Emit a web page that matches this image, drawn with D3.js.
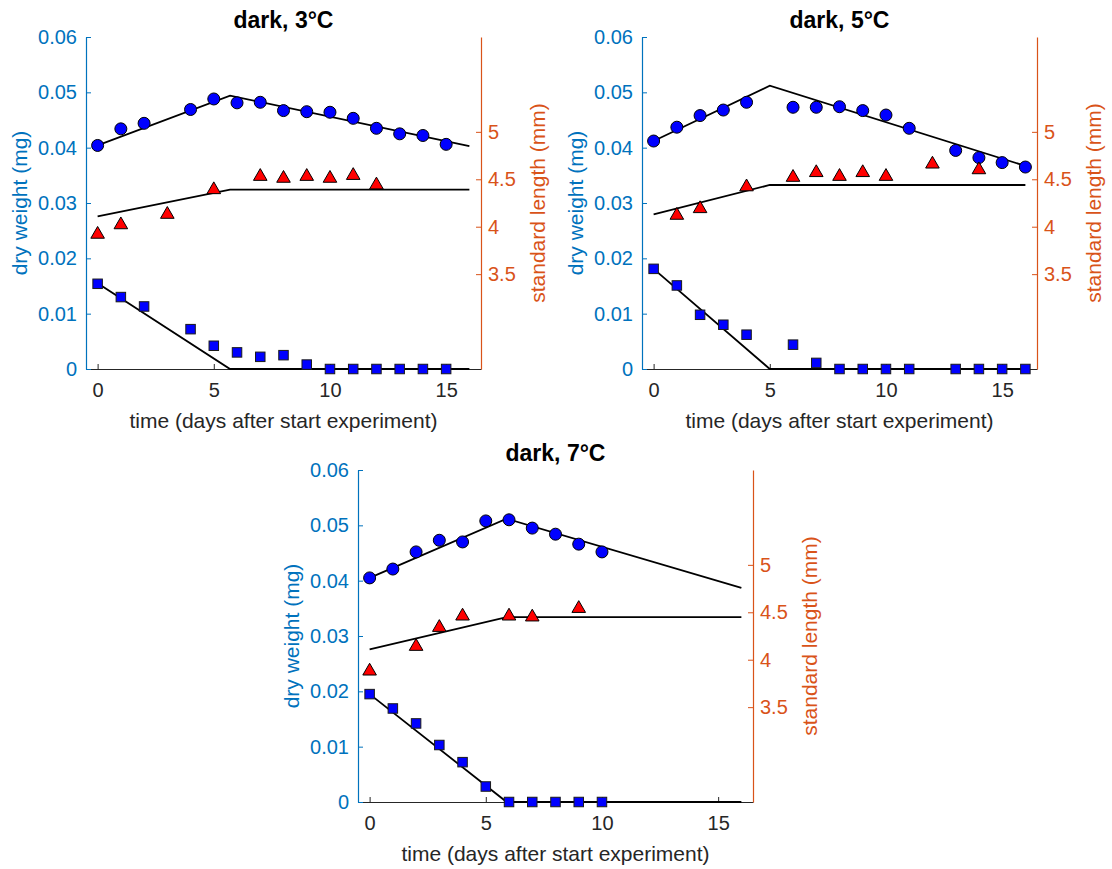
<!DOCTYPE html>
<html lang="en">
<head>
    <meta charset="utf-8">
    <title>dark incubation</title>
    <script type="text/javascript" src="https://cdnjs.cloudflare.com/ajax/libs/d3/7.8.5/d3.min.js"></script>
    <style>
      body { margin: 0; background: #fff; }
      text { font-family: "Liberation Sans", Arial, Helvetica, sans-serif; }
    </style>
</head>
<body>
    <script type="text/javascript">
    // tick values and titles
    var titles = ["dark, 3°C", "dark, 5°C", "dark, 7°C"];
    var xTicks = [0, 5, 10, 15];
    var weightTicks = [0, 0.01, 0.02, 0.03, 0.04, 0.05, 0.06];
    var lengthTicks = [3.5, 4, 4.5, 5];

    // 3°C data
    var wDays3 = [0, 1, 2, 4, 5, 6, 7, 8, 9, 10, 11, 12, 13, 14, 15];
    var weight3 = [0.0404, 0.0434, 0.0444, 0.0469, 0.0488, 0.0481, 0.0482, 0.0467, 0.0465, 0.0464, 0.0453, 0.0435, 0.0425, 0.0422, 0.0406];
    var yolk3 = [0.0154, 0.0130, 0.0113, 0.0072, 0.0042, 0.0030, 0.0022, 0.0025, 0.0008, 0, 0, 0, 0, 0, 0];
    var lDays3 = [0, 1, 3, 5, 7, 8, 9, 10, 11, 12];
    var length3 = [3.92, 4.02, 4.13, 4.39, 4.53, 4.51, 4.53, 4.51, 4.54, 4.44];
    var fitDays3 = [0, 5.7, 16];
    var fitWeight3 = [0.0404, 0.0494, 0.0403];
    var fitYolk3 = [0.0155, 0, 0];
    var fitLength3 = [4.11, 4.39, 4.39];

    // 5°C data
    var wDays5 = [0, 1, 2, 3, 4, 6, 7, 8, 9, 10, 11, 13, 14, 15, 16];
    var weight5 = [0.0412, 0.0437, 0.0458, 0.0468, 0.0482, 0.0473, 0.0473, 0.0474, 0.0467, 0.0459, 0.0435, 0.0395, 0.0382, 0.0373, 0.0365];
    var yolk5 = [0.0181, 0.0151, 0.0098, 0.0080, 0.0062, 0.0044, 0.0011, 0, 0, 0, 0, 0, 0, 0, 0];
    var lDays5 = [1, 2, 4, 6, 7, 8, 9, 10, 12, 14];
    var length5 = [4.12, 4.19, 4.42, 4.52, 4.57, 4.53, 4.57, 4.53, 4.66, 4.60];
    var fitDays5 = [0, 5, 16];
    var fitWeight5 = [0.0412, 0.0512, 0.0367];
    var fitYolk5 = [0.0181, 0, 0];
    var fitLength5 = [4.13, 4.44, 4.44];

    // 7°C data
    var wDays7 = [0, 1, 2, 3, 4, 5, 6, 7, 8, 9, 10];
    var weight7 = [0.0405, 0.0421, 0.0452, 0.0473, 0.0470, 0.0508, 0.0510, 0.0495, 0.0484, 0.0466, 0.0452];
    var yolk7 = [0.0195, 0.0169, 0.0142, 0.0103, 0.0072, 0.0028, 0, 0, 0, 0, 0];
    var lDays7 = [0, 2, 3, 4, 6, 7, 9];
    var length7 = [3.88, 4.14, 4.34, 4.46, 4.46, 4.45, 4.54];
    var fitDays7 = [0, 5.9, 16];
    var fitWeight7 = [0.0405, 0.0512, 0.0387];
    var fitYolk7 = [0.0195, 0, 0];
    var fitLength7 = [4.11, 4.45, 4.45];

    var blue = "#0072BD", orange = "#D95319", dark = "#262626";
    var width = 395, height = 332;

    var panels = [
      {title: titles[0], left: 86, top: 37, wDays: wDays3, weight: weight3, yolk: yolk3, lDays: lDays3, len: length3,
       fitDays: fitDays3, fitWeight: fitWeight3, fitYolk: fitYolk3, fitLength: fitLength3},
      {title: titles[1], left: 642, top: 37, wDays: wDays5, weight: weight5, yolk: yolk5, lDays: lDays5, len: length5,
       fitDays: fitDays5, fitWeight: fitWeight5, fitYolk: fitYolk5, fitLength: fitLength5},
      {title: titles[2], left: 358, top: 470, wDays: wDays7, weight: weight7, yolk: yolk7, lDays: lDays7, len: length7,
       fitDays: fitDays7, fitWeight: fitWeight7, fitYolk: fitYolk7, fitLength: fitLength7}
    ];

    var svg = d3.select("body").append("svg")
        .attr("width", 1112)
        .attr("height", 869);

    panels.forEach(function(p) {
      var x = d3.scaleLinear().domain([-0.5, 16.5]).range([0, width]);
      var yW = d3.scaleLinear().domain([0, 0.06]).range([height, 0]);
      var yL = d3.scaleLinear().domain([2.5, 6]).range([height, 0]);

      var g = svg.append("g")
          .attr("transform", "translate(" + p.left + "," + p.top + ")");

      // x axis
      var xa = g.append("g")
          .attr("transform", "translate(0," + height + ")")
          .call(d3.axisBottom(x).tickValues(xTicks).tickFormat(d3.format("d"))
            .tickSizeInner(-5).tickSizeOuter(0).tickPadding(14));
      xa.select(".domain").attr("stroke", dark).attr("stroke-width", 1);
      xa.selectAll(".tick line").attr("stroke", dark);
      xa.selectAll("text").attr("fill", dark).style("font-size", "20px").attr("font-family", null);

      // left axis (dry weight)
      var la = g.append("g")
          .call(d3.axisLeft(yW).tickValues(weightTicks).tickFormat(function(d) { return d === 0 ? "0" : d3.format(".2f")(d); })
            .tickSizeInner(-5).tickSizeOuter(0).tickPadding(9));
      la.select(".domain").attr("stroke", blue).attr("stroke-width", 1.2);
      la.selectAll(".tick line").attr("stroke", blue);
      la.selectAll("text").attr("fill", blue).style("font-size", "20px").attr("font-family", null);

      // right axis (standard length)
      var ra = g.append("g")
          .attr("transform", "translate(" + width + ",0)")
          .call(d3.axisRight(yL).tickValues(lengthTicks).tickFormat(d3.format("~g"))
            .tickSizeInner(-5).tickSizeOuter(0).tickPadding(7));
      ra.select(".domain").attr("stroke", orange).attr("stroke-width", 1.2);
      ra.selectAll(".tick line").attr("stroke", orange);
      ra.selectAll("text").attr("fill", orange).style("font-size", "20px").attr("font-family", null);

      // labels
      g.append("text")
          .attr("transform", "translate(-66," + height / 2 + ") rotate(-90)")
          .attr("text-anchor", "middle").attr("dy", "0.35em")
          .attr("fill", blue).style("font-size", "21px")
          .text("dry weight (mg)");
      g.append("text")
          .attr("transform", "translate(" + (width + 57) + "," + height / 2 + ") rotate(-90)")
          .attr("text-anchor", "middle").attr("dy", "0.35em")
          .attr("fill", orange).style("font-size", "21px")
          .text("standard length (mm)");
      g.append("text")
          .attr("x", width / 2).attr("y", height + 52)
          .attr("text-anchor", "middle").attr("dy", "0.35em")
          .attr("fill", dark).style("font-size", "21px")
          .text("time (days after start experiment)");
      g.append("text")
          .attr("x", width / 2).attr("y", -17)
          .attr("text-anchor", "middle").attr("dy", "0.35em")
          .attr("fill", "#000").style("font-size", "23px").style("font-weight", "bold")
          .text(p.title);

      // model lines
      var lineW = d3.line().x(function(d) { return x(d[0]); }).y(function(d) { return yW(d[1]); });
      var lineL = d3.line().x(function(d) { return x(d[0]); }).y(function(d) { return yL(d[1]); });
      [p.fitWeight, p.fitYolk].forEach(function(vals) {
        g.append("path")
            .datum(p.fitDays.map(function(d, i) { return [d, vals[i]]; }))
            .attr("fill", "none").attr("stroke", "#000").attr("stroke-width", 1.8)
            .attr("d", lineW);
      });
      g.append("path")
          .datum(p.fitDays.map(function(d, i) { return [d, p.fitLength[i]]; }))
          .attr("fill", "none").attr("stroke", "#000").attr("stroke-width", 1.8)
          .attr("d", lineL);

      // yolk squares
      g.selectAll(".sq")
          .data(p.wDays.map(function(d, i) { return [d, p.yolk[i]]; }))
          .enter().append("rect")
            .attr("x", function(d) { return x(d[0]) - 4.75; })
            .attr("y", function(d) { return yW(d[1]) - 4.75; })
            .attr("width", 9.5).attr("height", 9.5)
            .attr("fill", "#0000FF").attr("stroke", "#1a1a1a").attr("stroke-width", 1);

      // dry weight circles
      g.selectAll(".dot")
          .data(p.wDays.map(function(d, i) { return [d, p.weight[i]]; }))
          .enter().append("circle")
            .attr("cx", function(d) { return x(d[0]); })
            .attr("cy", function(d) { return yW(d[1]); })
            .attr("r", 6)
            .attr("fill", "#0000FF").attr("stroke", "#000").attr("stroke-width", 1);

      // standard length triangles
      var tri = d3.symbol().type(d3.symbolTriangle).size(80);
      g.selectAll(".tri")
          .data(p.lDays.map(function(d, i) { return [d, p.len[i]]; }))
          .enter().append("path")
            .attr("transform", function(d) { return "translate(" + x(d[0]) + "," + yL(d[1]) + ")"; })
            .attr("d", tri)
            .attr("fill", "#FF0000").attr("stroke", "#000").attr("stroke-width", 1);
    });
    </script>
</body>
</html>
